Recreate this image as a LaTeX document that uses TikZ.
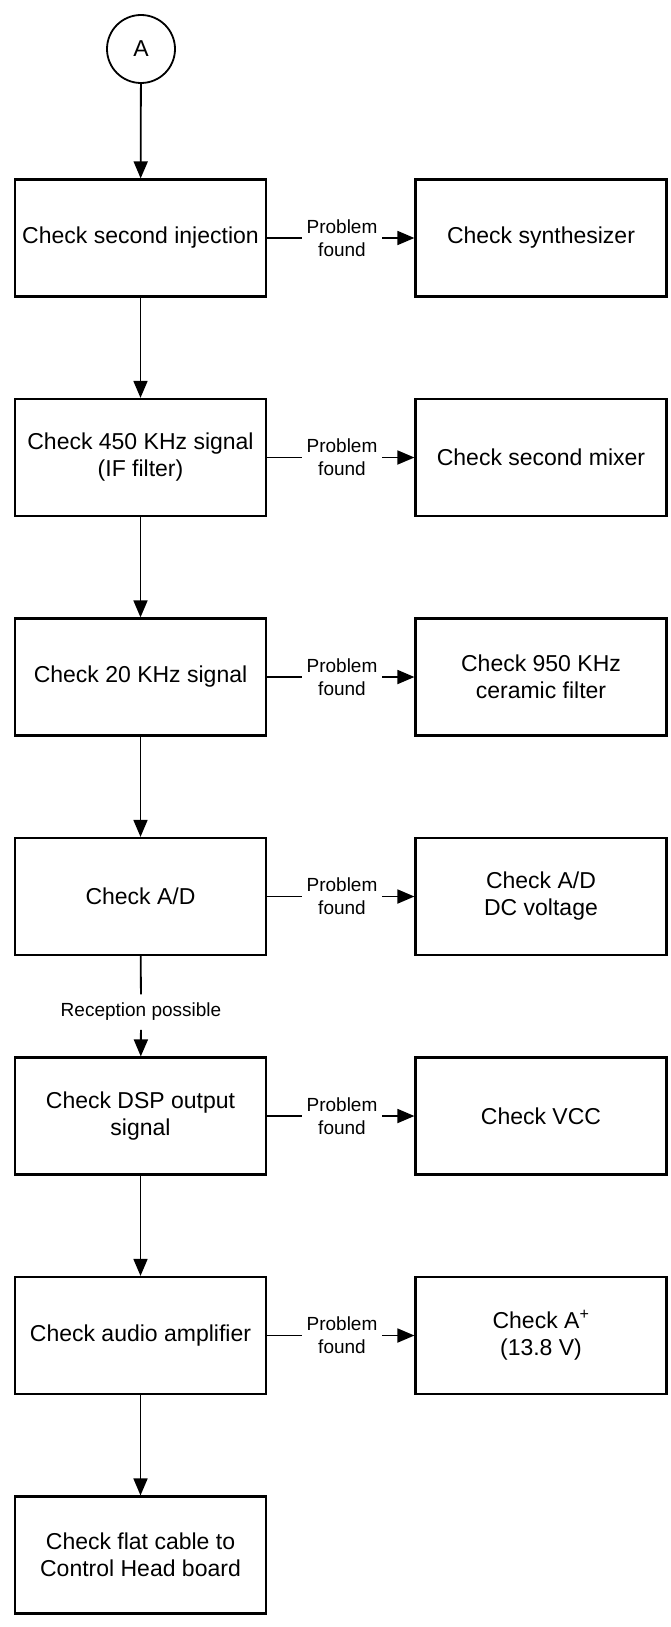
\documentclass[tikz,border=0pt]{standalone}
\usepackage{fontspec}
\setmainfont{Liberation Sans}
\usetikzlibrary{arrows.meta}

\begin{document}
\begin{tikzpicture}[x=1pt,y=-1pt,line width=1.8pt,
    check/.style = {draw,line width=2.2pt,minimum width=251pt,minimum height=117pt,align=center,font=\fontsize{23}{27}\selectfont},
    found/.style = {align=center,inner sep=4pt,font=\fontsize{19}{23}\selectfont},
    flow/.style = {-{Triangle[length=17pt,width=14pt]}}]

        \useasboundingbox (0,0) rectangle (670,1627);

        % Start
        \node [draw,circle,line width=1.8pt,minimum size=68pt,font=\fontsize{23}{27}\selectfont] (A) at (141,49) {A};

        % Left column
        \node [check] (inj) at (140.5,238) {Check second injection};
        \node [check] (ifsig) at (140.5,457.5) {Check 450 KHz signal\\(IF filter)};
        \node [check] (sig20) at (140.5,677) {Check 20 KHz signal};
        \node [check] (ad) at (140.5,896.5) {Check A/D};
        \node [check] (dsp) at (140.5,1116) {Check DSP output\\signal};
        \node [check] (amp) at (140.5,1335.5) {Check audio amplifier};
        \node [check] (cable) at (140.5,1555) {Check flat cable to\\Control Head board};

        % Right column
        \node [check] (synth) at (541,238) {Check synthesizer};
        \node [check] (mixer) at (541,457.5) {Check second mixer};
        \node [check] (ceramic) at (541,677) {Check 950 KHz\\ceramic filter};
        \node [check] (adv) at (541,896.5) {Check A/D\\DC voltage};
        \node [check] (vcc) at (541,1116) {Check VCC};
        \node [check] (aplus) at (541,1335.5) {Check A\textsuperscript{+}\\(13.8 V)};

        % Problem found labels
        \node [found] (p1) at (342,238) {Problem\\found};
        \node [found] (p2) at (342,457.5) {Problem\\found};
        \node [found] (p3) at (342,677) {Problem\\found};
        \node [found] (p4) at (342,896.5) {Problem\\found};
        \node [found] (p5) at (342,1116) {Problem\\found};
        \node [found] (p6) at (342,1335.5) {Problem\\found};
        \node [found,inner sep=8pt] (rec) at (141,1012) {Reception possible};

        % Main flow
        \draw[flow] (A) -- (inj);
        \draw[flow] (inj) -- (ifsig);
        \draw[flow] (ifsig) -- (sig20);
        \draw[flow] (sig20) -- (ad);
        \draw (ad) -- (rec);
        \draw[flow] (rec) -- (dsp);
        \draw[flow] (dsp) -- (amp);
        \draw[flow] (amp) -- (cable);

        % Side branches
        \draw (inj) -- (p1);
        \draw[flow] (p1) -- (synth);
        \draw (ifsig) -- (p2);
        \draw[flow] (p2) -- (mixer);
        \draw (sig20) -- (p3);
        \draw[flow] (p3) -- (ceramic);
        \draw (ad) -- (p4);
        \draw[flow] (p4) -- (adv);
        \draw (dsp) -- (p5);
        \draw[flow] (p5) -- (vcc);
        \draw (amp) -- (p6);
        \draw[flow] (p6) -- (aplus);

    \end{tikzpicture}
\end{document}
